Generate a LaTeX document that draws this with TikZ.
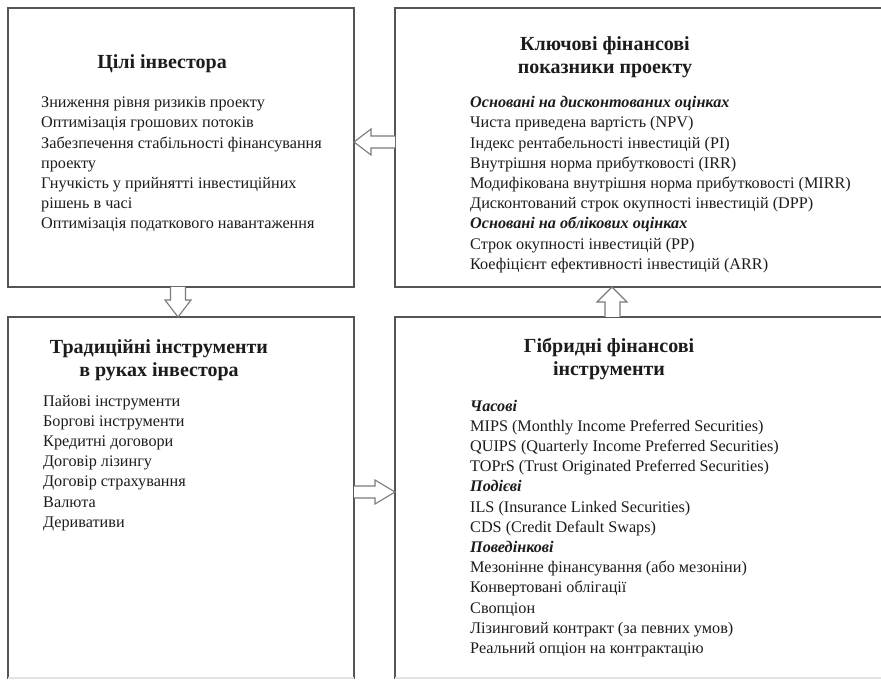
\documentclass[tikz,border=0pt]{standalone}
\usepackage{fontspec}
\setmainfont{Liberation Serif}
\usetikzlibrary{calc}
\definecolor{boxline}{HTML}{555555}
\definecolor{arrline}{HTML}{7A7A7A}
\definecolor{faint}{HTML}{E2E2E2}
\definecolor{txt}{HTML}{1C1C1C}
\tikzset{
  panel/.style={draw=boxline, line width=1.5pt, fill=white, inner sep=0pt, outer sep=0pt, anchor=north west},
  blockarrow/.style={draw=arrline, line width=1.1pt, fill=white, line join=miter},
  ttl/.style={font=\fontsize{20}{22.5}\selectfont\bfseries, align=center, anchor=base, inner sep=0pt, text=txt},
  body/.style={font=\fontsize{16.2}{20.2}\selectfont, align=left, anchor=base west, inner sep=0pt, text=txt}
}
\newcommand{\bihead}[1]{\textbf{\textit{#1}}}
\begin{document}
\begin{tikzpicture}[x=1pt,y=-1pt]
\useasboundingbox (0,0) rectangle (881,684);
\clip (0,0) rectangle (881,684);
\fill[white] (0,0) rectangle (881,684);

% panels
\node[panel, minimum width=346pt, minimum height=279pt] (b1) at (8,8) {};
\node[panel, minimum width=520pt, minimum height=279pt] (b2) at (395,8) {};
\node[panel, minimum width=346pt, minimum height=361pt] (b3) at (8,317) {};
\node[panel, minimum width=520pt, minimum height=361pt] (b4) at (395,317) {};
\draw[faint, line width=1.6pt] (b3.south west) -- (b3.south east);
\draw[faint, line width=1.6pt] (b4.south west) -- (b4.south east);

% texts (base anchor = baseline of the last line)
\node[ttl] (t1) at (162,69) {Цілі інвестора};
\node[body] (l1) at (41,229) {Зниження рівня ризиків проекту\\
Оптимізація грошових потоків\\
Забезпечення стабільності фінансування\\
проекту\\
Гнучкість у прийнятті інвестиційних\\
рішень в часі\\
Оптимізація податкового навантаження};

\node[ttl] (t2) at (605,73.5) {Ключові фінансові\\показники проекту};
\node[body] (l2) at (470,269.4) {\bihead{Основані на дисконтованих оцінках}\\
Чиста приведена вартість (NPV)\\
Індекс рентабельності інвестицій (PI)\\
Внутрішня норма прибутковості (IRR)\\
Модифікована внутрішня норма прибутковості (MIRR)\\
Дисконтований строк окупності інвестицій (DPP)\\
\bihead{Основані на облікових оцінках}\\
Строк окупності інвестицій (PP)\\
Коефіцієнт ефективності інвестицій (ARR)};

\node[ttl] (t3) at (159,376.5) {Традиційні інструменти\\в руках інвестора};
\node[body] (l3) at (43,527.2) {Пайові інструменти\\
Боргові інструменти\\
Кредитні договори\\
Договір лізингу\\
Договір страхування\\
Валюта\\
Деривативи};

\node[ttl] (t4) at (609,375.5) {Гібридні фінансові\\інструменти};
\node[body] (l4) at (470,653.4) {\bihead{Часові}\\
MIPS (Monthly Income Preferred Securities)\\
QUIPS (Quarterly Income Preferred Securities)\\
TOPrS (Trust Originated Preferred Securities)\\
\bihead{Подієві}\\
ILS (Insurance Linked Securities)\\
CDS (Credit Default Swaps)\\
\bihead{Поведінкові}\\
Мезонінне фінансування (або мезоніни)\\
Конвертовані облігації\\
Свопціон\\
Лізинговий контракт (за певних умов)\\
Реальний опціон на контрактацію};

% block arrows
% b2 -> b1 (left)
\draw[blockarrow] ($(b2.north west)+(0,128)$) -- ++(-24,0) -- ++(0,-7)
  -- ($(b1.north east)+(0,134)$) -- ($(b2.north west)+(-24,147)$) -- ++(0,-7) -- ($(b2.north west)+(0,140)$);
% b1 -> b3 (down)
\draw[blockarrow] ($(b1.south west)+(162.5,0)$) -- ++(0,13) -- ++(-5.5,0)
  -- ($(b3.north west)+(170,0)$) -- ($(b1.south west)+(183,13)$) -- ++(-5.5,0) -- ($(b1.south west)+(177.5,0)$);
% b3 -> b4 (right)
\draw[blockarrow] ($(b3.north east)+(0,169)$) -- ++(21,0) -- ++(0,-6)
  -- ($(b4.north west)+(0,175)$) -- ($(b3.north east)+(21,187)$) -- ++(0,-6) -- ($(b3.north east)+(0,181)$);
% b4 -> b2 (up)
\draw[blockarrow] ($(b4.north west)+(210,0)$) -- ++(0,-15) -- ++(-8,0)
  -- ($(b2.south west)+(217,0)$) -- ($(b4.north west)+(232,-15)$) -- ++(-7,0) -- ($(b4.north west)+(225,0)$);
\end{tikzpicture}
\end{document}
